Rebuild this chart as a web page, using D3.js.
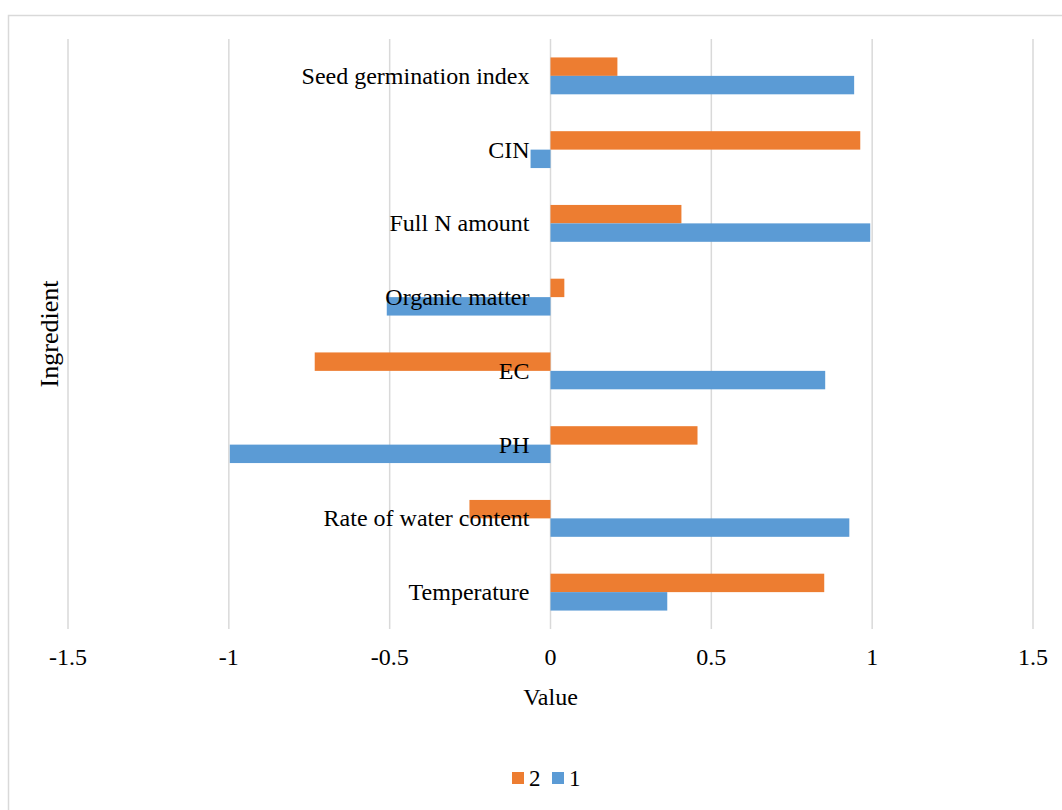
<!DOCTYPE html>
<html>
<head>
<meta charset="utf-8">
<script src="https://cdn.jsdelivr.net/npm/d3@7"></script>
<style>
  body { margin: 0; background: #fff; }
</style>
</head>
<body>
<svg id="chart" width="1062" height="810" font-family="'Liberation Serif', 'Times New Roman', serif"></svg>
<script>
// categories from top to bottom
const categories = ["Seed germination index", "CIN", "Full N amount", "Organic matter",
                    "EC", "PH", "Rate of water content", "Temperature"];
const series2 = [0.208, 0.963, 0.407, 0.043, -0.733, 0.457, -0.252, 0.851];
const series1 = [0.944, -0.062, 0.994, -0.509, 0.854, -0.997, 0.929, 0.363];
const seriesNames = ["2", "1"];
const xTicks = [-1.5, -1, -0.5, 0, 0.5, 1, 1.5];

const colors = { "2": "#ED7D31", "1": "#5B9BD5" };

const svg = d3.select("#chart");

// chart border
svg.append("rect")
   .attr("x", 8.5).attr("y", 15.5)
   .attr("width", 1070).attr("height", 810)
   .attr("fill", "none")
   .attr("stroke", "#d9d9d9")
   .attr("stroke-width", 1.5);

const plotLeft = 68, plotRight = 1033, plotTop = 39, plotBottom = 629;

const x = d3.scaleLinear().domain([-1.5, 1.5]).range([plotLeft, plotRight]);
const y0 = d3.scaleBand().domain(categories).range([plotTop, plotBottom]).paddingInner(0.5).paddingOuter(0.25);
const y1 = d3.scaleBand().domain(seriesNames).range([0, y0.bandwidth()]);

// gridlines
svg.append("g")
   .selectAll("line")
   .data(xTicks)
   .join("line")
   .attr("x1", d => x(d)).attr("x2", d => x(d))
   .attr("y1", plotTop).attr("y2", plotBottom)
   .attr("stroke", "#d9d9d9")
   .attr("stroke-width", 1.5);

// bars
const rows = categories.map((c, i) => ({ cat: c, values: [
    { s: "2", v: series2[i] }, { s: "1", v: series1[i] }] }));

const groups = svg.append("g")
   .selectAll("g")
   .data(rows)
   .join("g")
   .attr("transform", d => `translate(0,${y0(d.cat)})`);

groups.selectAll("rect")
   .data(d => d.values)
   .join("rect")
   .attr("x", d => x(Math.min(0, d.v)))
   .attr("y", d => y1(d.s))
   .attr("width", d => Math.abs(x(d.v) - x(0)))
   .attr("height", y1.bandwidth())
   .attr("fill", d => colors[d.s]);

// category labels (next to zero line, over the bars)
svg.append("g")
   .selectAll("text")
   .data(categories)
   .join("text")
   .attr("x", x(0) - 21)
   .attr("y", d => y0(d) + y0.bandwidth() / 2 + 8)
   .attr("text-anchor", "end")
   .attr("font-size", 24)
   .attr("fill", "#000")
   .text(d => d);

// x tick labels
svg.append("g")
   .selectAll("text")
   .data(xTicks)
   .join("text")
   .attr("x", d => x(d))
   .attr("y", 665)
   .attr("text-anchor", "middle")
   .attr("font-size", 24)
   .text(d => d);

// axis titles
svg.append("text")
   .attr("x", x(0))
   .attr("y", 705)
   .attr("text-anchor", "middle")
   .attr("font-size", 24)
   .text("Value");

svg.append("text")
   .attr("transform", `translate(58,${(plotTop + plotBottom) / 2}) rotate(-90)`)
   .attr("text-anchor", "middle")
   .attr("font-size", 26)
   .text("Ingredient");

// legend
const legend = svg.append("g").attr("transform", "translate(512,772)");
seriesNames.forEach((s, i) => {
    const g = legend.append("g").attr("transform", `translate(${i * 40},0)`);
    g.append("rect").attr("width", 12).attr("height", 12).attr("fill", colors[s]);
    g.append("text").attr("x", 17).attr("y", 14).attr("font-size", 23).text(s);
});
</script>
</body>
</html>
